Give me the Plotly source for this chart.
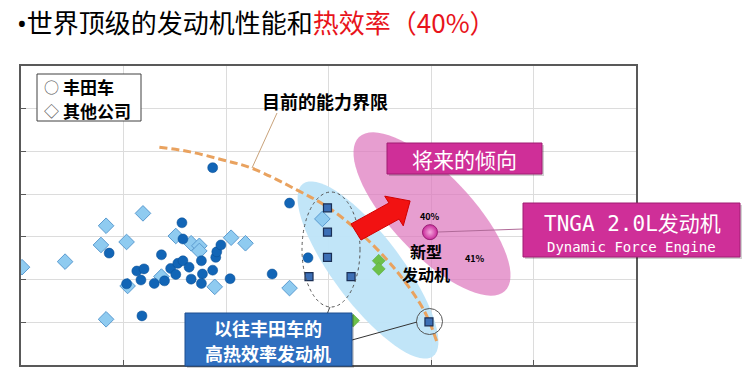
import numpy as np
import plotly.graph_objects as go

# ---------------- data (abstract chart units, no tick labels in source) ----------------
toyota_x = [0.86, 1.03, 1.13, 1.20, 1.17, 1.30, 1.40, 1.37, 1.46, 1.51, 1.53, 1.58, 1.57, 1.58,
            1.64, 1.66, 1.76, 1.77, 1.76, 1.87, 1.90, 1.91, 1.95, 2.04, 1.18, 1.87, 2.62, 2.80, 2.45]
toyota_y = [2.62, 1.90, 2.20, 2.25, 1.99, 1.91, 1.97, 2.58, 2.26, 2.12, 2.38, 2.44, 3.33, 2.95,
            2.29, 2.01, 2.44, 2.13, 1.91, 2.22, 2.52, 2.65, 2.81, 2.02, 1.15, 4.62, 3.79, 2.51, 2.13]

other_x = [0.01, 0.43, 0.78, 0.83, 1.19, 1.03, 0.83, 1.04, 1.37, 1.51, 1.66, 1.74, 1.74, 1.89,
           2.05, 2.19, 2.94, 2.62]
other_y = [2.29, 2.42, 2.81, 3.26, 3.55, 2.88, 1.07, 1.85, 2.07, 3.02, 2.85, 2.79, 2.67, 1.83,
           2.98, 2.85, 3.42, 1.80]

past_hte_x = [2.99, 2.99, 2.99, 2.81, 3.22, 3.98]
past_hte_y = [3.68, 3.11, 2.52, 2.07, 2.07, 1.01]

green_x = [3.49, 3.49, 3.24]
green_y = [2.44, 2.25, 1.04]

new_engine_x = [3.99]
new_engine_y = [3.11]

limit_x = [1.35, 1.65, 1.97, 2.25, 2.69, 2.99, 3.31, 3.63, 3.89, 3.99, 4.06]
limit_y = [5.10, 4.99, 4.80, 4.61, 4.10, 3.70, 3.09, 2.30, 1.45, 0.98, 0.52]

title_bullet = "•"
title_black = "世界顶级的发动机性能和"
title_red = "热效率（40%）"
legend_symbols = ["○", "◇"]
legend_labels = ["丰田车", "其他公司"]
limit_label = "目前的能力界限"
future_label = "将来的倾向"
tnga_label = "TNGA 2.0L发动机"
tnga_sub = "Dynamic Force Engine"
new_label = ["新型", "发动机"]
past_label = ["以往丰田车的", "高热效率发动机"]
pct_a, pct_b = "40%", "41%"

# ---------------- layout geometry helpers ----------------
L, T, W, H = 21, 66, 615, 299
XMAX, YMAX = 6, 7


def X(px):
    return (px - L) / W * XMAX


def Y(py):
    return (T + H - py) / H * YMAX


def PX(px):
    return (px - L) / W


def PY(py):
    return (T + H - py) / H


def ellipse_path(cx, cy, a, b, ang_deg, n=72):
    t = np.linspace(0, 2 * np.pi, n, endpoint=False)
    ang = np.deg2rad(ang_deg)
    ex = cx + a * np.cos(t) * np.cos(ang) - b * np.sin(t) * np.sin(ang)
    ey = cy + a * np.cos(t) * np.sin(ang) + b * np.sin(t) * np.cos(ang)
    pts = [f"{X(x):.4f},{Y(y):.4f}" for x, y in zip(ex, ey)]
    return "M" + " L".join(pts) + " Z"


def poly_path(points):
    return "M" + " L".join(f"{X(x):.4f},{Y(y):.4f}" for x, y in points) + " Z"


CJK = "Noto Sans CJK SC, Noto Sans, sans-serif"
MONO = "DejaVu Sans Mono, Noto Sans CJK SC, monospace"

fig = go.Figure()

# capability limit curve
fig.add_trace(go.Scatter(x=limit_x, y=limit_y, mode="lines",
                         line=dict(color="#E9A25F", width=3, dash="8px,4px", shape="spline"),
                         hoverinfo="skip"))
# other companies
fig.add_trace(go.Scatter(x=other_x, y=other_y, mode="markers",
                         marker=dict(symbol="diamond", size=12, color="#8FCBF0",
                                     line=dict(color="#5B9BD0", width=1))))
# toyota
fig.add_trace(go.Scatter(x=toyota_x, y=toyota_y, mode="markers",
                         marker=dict(symbol="circle", size=10, color="#1265B6",
                                     line=dict(color="#0B4F92", width=0.5))))
# past high thermal efficiency engines
fig.add_trace(go.Scatter(x=past_hte_x, y=past_hte_y, mode="markers",
                         marker=dict(symbol="square", size=8, color="#3C6FB6",
                                     line=dict(color="#1A2F55", width=1.2))))
# green points
fig.add_trace(go.Scatter(x=green_x, y=green_y, mode="markers",
                         marker=dict(symbol="diamond", size=10, color="#6CC04A",
                                     line=dict(color="#58A83A", width=0.5))))
# new engine
fig.add_trace(go.Scatter(x=new_engine_x, y=new_engine_y, mode="markers",
                         marker=dict(symbol="circle", size=15, color="#C92A9A",
                                     gradient=dict(type="radial", color="#F5A8DE"),
                                     line=dict(color="#9A1F75", width=1))))

shapes = []
# pink future ellipse
shapes.append(dict(type="path", xref="x", yref="y", layer="between",
                   path=ellipse_path(432, 214, 106, 40, 46.5),
                   fillcolor="rgba(222,120,190,0.72)", line=dict(width=0)))
# light blue ellipse
shapes.append(dict(type="path", xref="x", yref="y", layer="between",
                   path=ellipse_path(368, 270, 108, 34, 53),
                   fillcolor="rgba(190,228,248,0.95)", line=dict(width=0)))
# dotted ellipse around squares
shapes.append(dict(type="circle", xref="x", yref="y", layer="above",
                   x0=X(302), x1=X(360), y0=Y(192), y1=Y(307),
                   line=dict(color="#555555", width=1, dash="dot")))
# small circle around last square
shapes.append(dict(type="circle", xref="x", yref="y", layer="above",
                   x0=X(416.5), x1=X(442.5), y0=Y(308.5), y1=Y(334.5),
                   line=dict(color="#555555", width=1)))
# leader lines
lines = [((277, 113), (252, 168), "#C9A27A"),
         ((330, 307), (327, 314), "#555555"),
         ((417, 322), (352, 340), "#333333"),
         ((438, 232), (523, 229), "#B06A98")]
for (x0, y0), (x1, y1), c in lines:
    shapes.append(dict(type="line", xref="x", yref="y", layer="above",
                       x0=X(x0), y0=Y(y0), x1=X(x1), y1=Y(y1), line=dict(color=c, width=1)))

# red arrow
u = np.array([0.85, -0.53]); u = u / np.linalg.norm(u)
nrm = np.array([-u[1], u[0]])
tail = np.array([356, 232]); base = np.array([394, 211]); tip = base + 19 * u
sw, hw = 9.5, 17.5
arrow = [tail + sw * nrm, base + sw * nrm, base + hw * nrm, tip,
         base - hw * nrm, base - sw * nrm, tail - sw * nrm]
shapes.append(dict(type="path", xref="x", yref="y", layer="above",
                   path=poly_path([tuple(p) for p in arrow]),
                   fillcolor="#F21212", line=dict(color="#D00000", width=1)))

# boxes (shadow + box)
boxes = [((387, 143, 542, 174), "#CF2F98", "#A01C72"),
         ((523, 203, 740, 257), "#CF2F98", "#A01C72"),
         ((185, 313, 352, 366), "#2F6FBF", "#1F4F8F")]
for (x0, y0, x1, y1), fc, lc in boxes:
    shapes.append(dict(type="rect", xref="paper", yref="paper", layer="above",
                       x0=PX(x0 + 2), x1=PX(x1 + 2), y0=PY(y0 + 2), y1=PY(y1 + 2),
                       fillcolor="rgba(0,0,0,0.18)", line=dict(width=0)))
    shapes.append(dict(type="rect", xref="paper", yref="paper", layer="above",
                       x0=PX(x0), x1=PX(x1), y0=PY(y0), y1=PY(y1),
                       fillcolor=fc, line=dict(color=lc, width=1)))
# legend box
shapes.append(dict(type="rect", xref="paper", yref="paper", layer="above",
                   x0=PX(37), x1=PX(141), y0=PY(74), y1=PY(121),
                   fillcolor="white", line=dict(color="#404040", width=1)))

ann = []


def add_text(px, py, text, size, color="black", family=CJK, xanchor="center", bold=False):
    ann.append(dict(xref="paper", yref="paper", x=PX(px), y=PY(py), text=f"<b>{text}</b>" if bold else text,
                    showarrow=False, xanchor=xanchor, yanchor="middle", borderpad=0,
                    font=dict(size=size, color=color, family=family)))


add_text(16, 22,
         f"<span style='font-family:Noto Sans'>{title_bullet}</span>{title_black}"
         f"<span style='color:#E8141B'>{title_red}</span>", 26, xanchor="left")
add_text(51.5, 87, legend_symbols[0], 15, color="#555555")
add_text(51.5, 110, legend_symbols[1], 15, color="#555555")
add_text(62, 87, legend_labels[0], 17, xanchor="left", bold=True)
add_text(62, 110, legend_labels[1], 17, xanchor="left", bold=True)
add_text(325, 101, limit_label, 18, bold=True)
add_text(464, 159, future_label, 21, color="white")
add_text(632, 224, tnga_label, 21, color="white", family=MONO)
add_text(631, 247, tnga_sub, 14, color="white", family=MONO)
add_text(426, 251, new_label[0], 16, bold=True)
add_text(426, 274, new_label[1], 16, bold=True)
add_text(430, 216, pct_a, 9, bold=True)
add_text(475, 258, pct_b, 9, bold=True)
add_text(268, 328, past_label[0], 18, color="white", bold=True)
add_text(268, 353, past_label[1], 18, color="white", bold=True)

axis_common = dict(range=[0, 1], dtick=1, tick0=0, showgrid=True, gridcolor="#DCDCDC", gridwidth=1,
                   showline=True, linecolor="#595959", linewidth=1.5, mirror=True,
                   ticks="inside", ticklen=5, tickcolor="#595959", showticklabels=False,
                   zeroline=False, fixedrange=True)
xa = dict(axis_common); xa["range"] = [0, XMAX]
ya = dict(axis_common); ya["range"] = [0, YMAX]

fig.update_layout(width=750, height=376, margin=dict(l=L, r=750 - L - W, t=T, b=376 - T - H),
                  plot_bgcolor="white", paper_bgcolor="white", showlegend=False,
                  xaxis=xa, yaxis=ya, shapes=shapes, annotations=ann,
                  font=dict(family=CJK))

fig.write_html("out.html")
